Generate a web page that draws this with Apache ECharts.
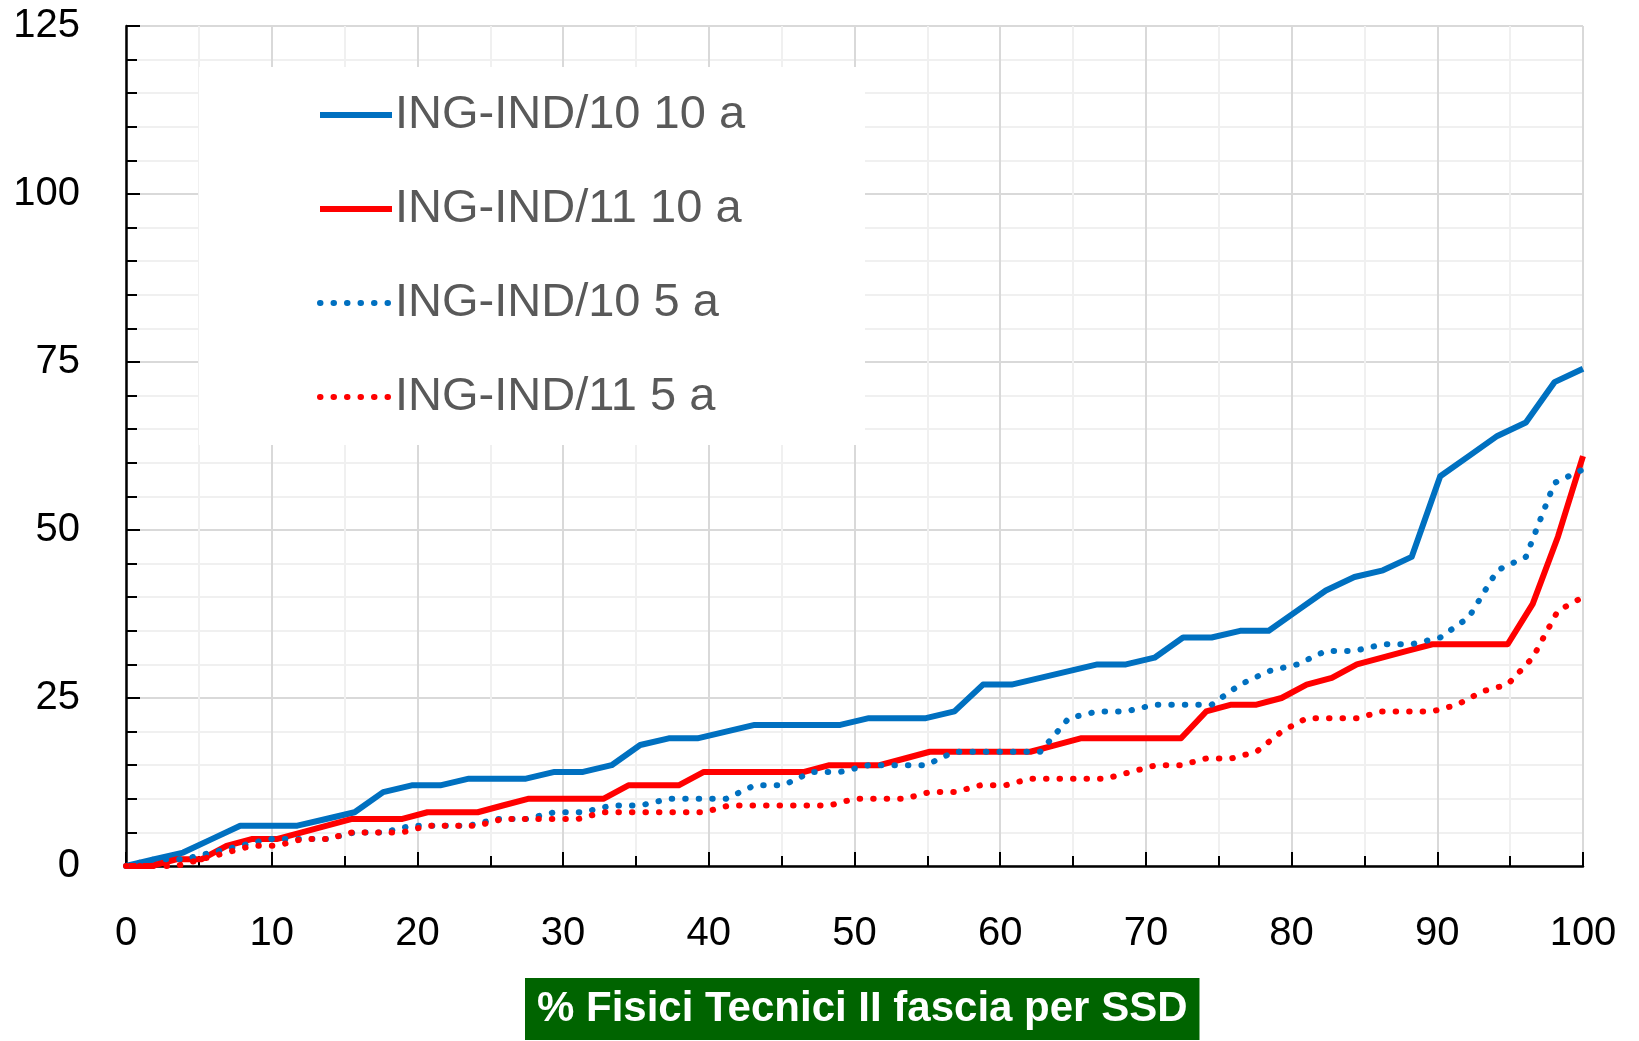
<!DOCTYPE html>
<html>
<head>
<meta charset="utf-8">
<script src="https://cdn.jsdelivr.net/npm/echarts@6/dist/echarts.min.js"></script>
<style>
  html, body { margin: 0; padding: 0; background: #fff; }
  #chart { width: 1639px; height: 1041px; }
</style>
</head>
<body>
<div id="chart"></div>
<script>
// grafico percentili per SSD
var chart = echarts.init(document.getElementById('chart'));

var seriesNames = ['ING-IND/10 10 a', 'ING-IND/11 10 a', 'ING-IND/10 5 a', 'ING-IND/11 5 a'];

// % percentile, ING-IND/10 (52 punti)
var xInd10 = [0, 1.96, 3.92, 5.88, 7.84, 9.80, 11.76, 13.73, 15.69, 17.65, 19.61, 21.57, 23.53,
  25.49, 27.45, 29.41, 31.37, 33.33, 35.29, 37.25, 39.22, 41.18, 43.14, 45.10, 47.06, 49.02,
  50.98, 52.94, 54.90, 56.86, 58.82, 60.78, 62.75, 64.71, 66.67, 68.63, 70.59, 72.55, 74.51,
  76.47, 78.43, 80.39, 82.35, 84.31, 86.27, 88.24, 90.20, 92.16, 94.12, 96.08, 98.04, 100];

// % percentile, ING-IND/11 (59 punti)
var xInd11 = [0, 1.72, 3.45, 5.17, 6.90, 8.62, 10.34, 12.07, 13.79, 15.52, 17.24, 18.97, 20.69,
  22.41, 24.14, 25.86, 27.59, 29.31, 31.03, 32.76, 34.48, 36.21, 37.93, 39.66, 41.38, 43.10,
  44.83, 46.55, 48.28, 50.00, 51.72, 53.45, 55.17, 56.90, 58.62, 60.34, 62.07, 63.79, 65.52,
  67.24, 68.97, 70.69, 72.41, 74.14, 75.86, 77.59, 79.31, 81.03, 82.76, 84.48, 86.21, 87.93,
  89.66, 91.38, 93.10, 94.83, 96.55, 98.28, 100];

var ind10_10a = [0, 1, 2, 4, 6, 6, 6, 7, 8, 11, 12, 12, 13, 13, 13, 14, 14, 15, 18, 19, 19, 20,
  21, 21, 21, 21, 22, 22, 22, 23, 27, 27, 28, 29, 30, 30, 31, 34, 34, 35, 35, 38, 41, 43, 44,
  46, 58, 61, 64, 66, 72, 74];

var ind11_10a = [0, 0, 1, 1, 3, 4, 4, 5, 6, 7, 7, 7, 8, 8, 8, 9, 10, 10, 10, 10, 12, 12, 12, 14,
  14, 14, 14, 14, 15, 15, 15, 16, 17, 17, 17, 17, 17, 18, 19, 19, 19, 19, 19, 23, 24, 24, 25,
  27, 28, 30, 31, 32, 33, 33, 33, 33, 39, 49, 61];

var ind10_5a = [0, 1, 1, 2, 3, 4, 4, 4, 5, 5, 6, 6, 6, 7, 7, 8, 8, 9, 9, 10, 10, 10, 12, 12, 14,
  14, 15, 15, 15, 17, 17, 17, 17, 22, 23, 23, 24, 24, 24, 27, 29, 30, 32, 32, 33, 33, 34, 37,
  44, 46, 57, 59];

var ind11_5a = [0, 0, 0, 1, 2, 3, 3, 4, 4, 5, 5, 5, 6, 6, 6, 7, 7, 7, 7, 8, 8, 8, 8, 8, 9, 9, 9,
  9, 9, 10, 10, 10, 11, 11, 12, 12, 13, 13, 13, 13, 14, 15, 15, 16, 16, 17, 20, 22, 22, 22, 23,
  23, 23, 24, 26, 27, 31, 38, 40];

var xTitle = '% Fisici Tecnici II fascia per SSD';

var blue = '#0070C0';
var red = '#FF0000';
var fontFam = '"Liberation Sans", Arial, sans-serif';

// accoppia x e y
function pairs(xs, ys) {
  var out = [];
  for (var i = 0; i < ys.length; i++) {
    out.push([xs[i], ys[i]]);
  }
  return out;
}

function makeSeries(name, xs, ys, color, dotted) {
  return {
    name: name,
    type: 'line',
    data: pairs(xs, ys),
    symbol: 'none',
    showSymbol: false,
    animation: false,
    lineStyle: {
      color: color,
      width: 6,
      type: dotted ? [0.5, 13] : 'solid',
      cap: dotted ? 'round' : 'butt',
      join: 'round'
    },
    itemStyle: { color: color }
  };
}

var option = {
  backgroundColor: '#fff',
  animation: false,
  grid: {
    left: 126,
    right: 56,
    top: 26,
    bottom: 175
  },
  // titolo asse x come riquadro verde
  title: {
    text: xTitle,
    left: 525,
    top: 978,
    padding: [10, 12, 10, 12],
    backgroundColor: '#006400',
    textStyle: {
      color: '#fff',
      fontWeight: 'bold',
      fontSize: 42,
      fontFamily: fontFam,
      lineHeight: 42
    }
  },
  legend: {
    orient: 'vertical',
    left: 199,
    top: 67,
    padding: [24, 120, 24, 118],
    backgroundColor: '#fff',
    itemWidth: 72,
    itemHeight: 20,
    itemGap: 46,
    itemStyle: { opacity: 0 },
    lineStyle: { width: 6 },
    textStyle: {
      color: '#595959',
      fontSize: 47,
      fontFamily: fontFam,
      lineHeight: 48,
      padding: [0, 0, 0, -2]
    },
    data: seriesNames
  },
  xAxis: {
    type: 'value',
    min: 0,
    max: 100,
    interval: 10,
    axisLine: { lineStyle: { color: '#000', width: 2.5 } },
    axisTick: { inside: true, length: 14, lineStyle: { color: '#000', width: 2 } },
    minorTick: { show: true, splitNumber: 2, length: 10, lineStyle: { color: '#000', width: 2 } },
    axisLabel: { color: '#000', fontSize: 40, fontFamily: fontFam, margin: 48 },
    splitLine: { show: true, lineStyle: { color: '#D9D9D9', width: 2 } },
    minorSplitLine: { show: true, lineStyle: { color: '#F0F0F0', width: 2 } }
  },
  yAxis: {
    type: 'value',
    min: 0,
    max: 125,
    interval: 25,
    axisLine: { show: true, lineStyle: { color: '#000', width: 2.5 } },
    axisTick: { show: true, inside: true, length: 14, lineStyle: { color: '#000', width: 2 } },
    minorTick: { show: true, splitNumber: 5, length: 11, lineStyle: { color: '#000', width: 2 } },
    axisLabel: { color: '#000', fontSize: 40, fontFamily: fontFam, margin: 46 },
    splitLine: { show: true, lineStyle: { color: '#D9D9D9', width: 2 } },
    minorSplitLine: { show: true, lineStyle: { color: '#F0F0F0', width: 2 } }
  },
  series: [
    makeSeries(seriesNames[0], xInd10, ind10_10a, blue, false),
    makeSeries(seriesNames[1], xInd11, ind11_10a, red, false),
    makeSeries(seriesNames[2], xInd10, ind10_5a, blue, true),
    makeSeries(seriesNames[3], xInd11, ind11_5a, red, true)
  ]
};

chart.setOption(option);
</script>
</body>
</html>
